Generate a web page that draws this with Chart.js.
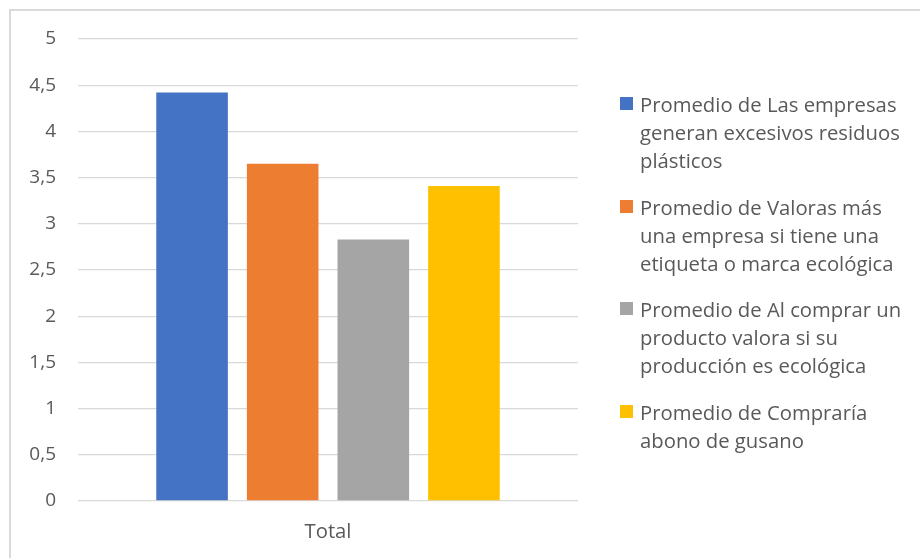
<!DOCTYPE html>
<html>
<head>
<meta charset="utf-8">
<script src="https://cdn.jsdelivr.net/npm/chart.js@4/dist/chart.umd.min.js"></script>
<style>
	html, body { margin: 0; padding: 0; background: #fff; }
	#wrap { position: relative; width: 920px; height: 558px; overflow: hidden; }
	#frame { position: absolute; left: 9px; top: 9px; right: -4px; bottom: -4px;
		border-top: 2px solid #d9d9d9; border-left: 2px solid #d9d9d9; }
	#myChart { position: absolute; left: 0; top: 0; }
	#legend { position: absolute; left: 620px; top: 90px; font-family: "Open Sans", sans-serif;
		font-size: 20.3px; line-height: 28px; color: #595959; white-space: nowrap; }
	.item { position: relative; padding-left: 20px; margin-bottom: 18.7px; }
	.swatch { position: absolute; left: 0; top: 7px; width: 13px; height: 13px; }
</style>
</head>
<body>
<div id="wrap">
	<div id="frame"></div>
	<canvas id="myChart" width="920" height="558"></canvas>
	<div id="legend"></div>
</div>
<script>
var categories = ['Total'];

var seriesNames = [
	['Promedio de Las empresas', 'generan excesivos residuos', 'plásticos'],
	['Promedio de Valoras más', 'una empresa si tiene una', 'etiqueta o marca ecológica'],
	['Promedio de Al comprar un', 'producto valora si su', 'producción es ecológica'],
	['Promedio de Compraría', 'abono de gusano']
];

var seriesValues = [4.42, 3.65, 2.83, 3.41];

var seriesColors = ['#4472c4', '#ed7d31', '#a5a5a5', '#ffc000'];

var yMin = 0;
var yMax = 5;
var yStep = 0.5;

var textColor = '#595959';
var fontFamily = '"Open Sans", sans-serif';

function getDatasets() {
	var datasets = [];
	for (var i = 0; i < seriesValues.length; i++) {
		datasets.push({
			label: seriesNames[i].join(' '),
			data: [seriesValues[i]],
			backgroundColor: seriesColors[i],
			borderWidth: 0,
			categoryPercentage: 0.725,
			barPercentage: 0.79
		});
	}
	return datasets;
}

// legend with wrapped lines, built from the chart's own legend items
var htmlLegend = {
	id: 'htmlLegend',
	afterUpdate: function (chart) {
		var box = document.getElementById('legend');
		box.innerHTML = '';
		var items = chart.options.plugins.legend.labels.generateLabels(chart);
		for (var i = 0; i < items.length; i++) {
			var item = document.createElement('div');
			item.className = 'item';
			var swatch = document.createElement('span');
			swatch.className = 'swatch';
			swatch.style.background = items[i].fillStyle;
			item.appendChild(swatch);
			var lines = seriesNames[items[i].datasetIndex];
			for (var j = 0; j < lines.length; j++) {
				var line = document.createElement('div');
				line.textContent = lines[j];
				item.appendChild(line);
			}
			box.appendChild(item);
		}
	}
};

var myChart = new Chart(document.getElementById('myChart').getContext('2d'), {
	type: 'bar',
	data: {
		labels: categories,
		datasets: getDatasets()
	},
	options: {
		responsive: false,
		animation: false,
		layout: {
			padding: { left: 0, right: 342, top: 39, bottom: 0 }
		},
		plugins: {
			legend: { display: false },
			tooltip: { enabled: false }
		},
		scales: {
			x: {
				grid: { display: false, drawTicks: false },
				border: { display: false },
				ticks: {
					color: textColor,
					font: { family: fontFamily, size: 20.3 },
					padding: 19
				},
				afterFit: function (scale) { scale.height = 57; }
			},
			y: {
				min: yMin,
				max: yMax,
				grid: { color: '#d9d9d9', lineWidth: 1.3, drawTicks: false },
				border: { display: false },
				ticks: {
					stepSize: yStep,
					color: textColor,
					font: { family: fontFamily, size: 19 },
					padding: 22,
					callback: function (value) {
						return String(value).replace('.', ',');
					}
				},
				afterFit: function (scale) { scale.width = 78; }
			}
		}
	},
	plugins: [htmlLegend]
});
</script>
</body>
</html>
